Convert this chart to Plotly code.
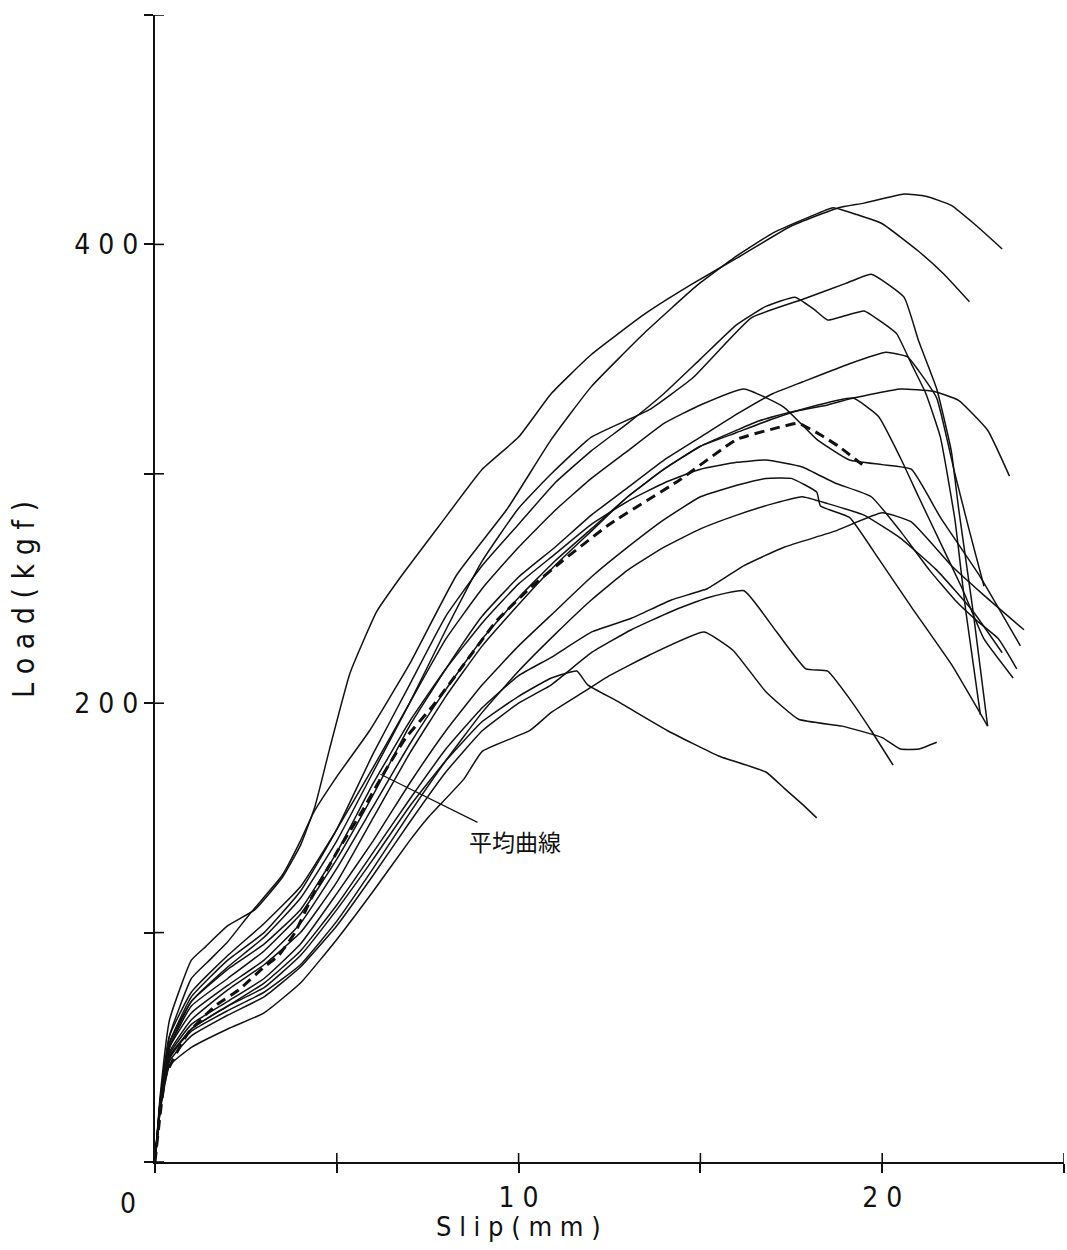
import plotly.graph_objects as go

# ---- data (slip mm, load kgf) ----
A_x = [0, 0.15, 0.4, 1.0, 1.4, 2.0, 2.75, 3.5, 4.0, 4.4, 4.8, 5.36, 6.1, 6.8, 7.8, 9.0, 10.0, 10.9, 12.0, 13.5, 14.8, 16.0, 17.5, 18.8, 19.5, 20.6, 21.2, 21.9, 22.6, 23.3]
A_y = [0, 30, 62, 88, 94, 103, 110, 124, 138, 155, 180, 213, 240, 256, 277, 302, 316, 335, 352, 370, 383, 394, 408, 416, 418, 422, 421, 417, 408, 398]

B_x = [0, 0.15, 0.4, 1.0, 1.5, 2.0, 2.6, 3.5, 4.0, 4.35, 5.0, 5.9, 7.0, 8.3, 9.7, 10.9, 12.0, 13.5, 14.9, 16.0, 17.0, 18.0, 18.65, 19.3, 20.0, 21.0, 21.7, 22.4]
B_y = [0, 28, 55, 80, 88, 96, 108, 125, 140, 152, 168, 188, 217, 256, 285, 315, 338, 362, 382, 395, 405, 412, 416, 413, 409, 397, 387, 375]

C_x = [0, 0.15, 0.4, 1, 2, 3, 4, 5, 6, 7, 8, 9, 10, 10.9, 12, 13.6, 14.8, 16.4, 17.8, 19.0, 19.7, 20.6, 21.0, 21.5, 21.9, 22.1, 22.5, 22.9]
C_y = [0, 25, 50, 70, 85, 98, 115, 140, 170, 200, 232, 262, 285, 300, 316, 328, 342, 368, 376, 383, 387, 377, 358, 337, 310, 285, 240, 190]

D_x = [0, 0.15, 0.4, 1, 2, 3, 4, 5, 6, 7, 8, 9, 10, 11, 12, 13, 14, 15, 16, 16.8, 17.6, 18.1, 18.5, 19.0, 19.5, 20.0, 20.4, 20.8, 21.2, 21.6, 22.0, 22.3, 22.7]
D_y = [0, 27, 52, 72, 88, 100, 118, 145, 178, 208, 238, 260, 278, 296, 310, 322, 335, 350, 365, 373, 377, 372, 367, 369, 371, 366, 361, 348, 335, 316, 280, 240, 195]

E_x = [0, 0.15, 0.4, 1, 2, 3, 4, 5, 6, 7, 8, 9, 10, 11, 12, 13, 14, 15, 16, 17, 17.8, 19.1, 20.1, 20.7, 21.0, 21.5, 22.0, 22.4, 22.8]
E_y = [0, 26, 50, 68, 80, 92, 108, 132, 160, 190, 215, 238, 255, 268, 282, 294, 306, 316, 326, 335, 340, 348, 353, 351, 345, 333, 300, 275, 251]

F_x = [0, 0.15, 0.4, 1, 2, 3, 4, 5, 6, 7, 8, 9, 10, 11, 12, 13, 14, 15, 16, 16.6, 17.5, 18.5, 19.2, 20.5, 21.4, 22.1, 22.9, 23.5]
F_y = [0, 25, 48, 62, 75, 86, 100, 122, 150, 178, 203, 225, 243, 260, 275, 290, 302, 312, 319, 323, 327, 330, 333, 337, 336, 332, 319, 299]

G_x = [0, 0.15, 0.4, 1, 2, 3, 4, 5, 6, 7, 8, 9, 10, 11, 12, 13, 14, 15, 16, 17, 18, 19.2, 19.9, 20.5, 21.0, 21.6, 22.2, 22.8, 23.6]
G_y = [0, 26, 50, 65, 77, 88, 104, 128, 155, 182, 206, 228, 246, 262, 276, 290, 302, 312, 318, 324, 329, 333, 325, 307, 290, 270, 250, 228, 211]

H_x = [0, 0.15, 0.4, 1, 2, 3, 4, 5, 6, 7, 8, 9, 10, 11, 12, 13, 14, 15, 16.2, 17.3, 18.2, 19.1, 20.0, 20.8, 21.6, 22.7, 23.8]
H_y = [0, 28, 55, 74, 90, 104, 120, 145, 172, 200, 228, 250, 268, 284, 298, 310, 322, 330, 337, 329, 315, 306, 304, 302, 281, 255, 225]

I_x = [0, 0.15, 0.4, 1, 2, 3, 4, 5, 6, 7, 8, 9, 10, 10.9, 12, 13.1, 14.2, 15.2, 16.2, 17.3, 18.7, 20.0, 20.8, 21.9, 22.8, 23.9]
I_y = [0, 24, 45, 58, 68, 78, 92, 112, 135, 158, 180, 198, 212, 220, 231, 237, 245, 250, 260, 268, 275, 283, 279, 260, 247, 232]

J_x = [0, 0.15, 0.4, 1, 2, 3, 4, 5, 6, 7, 8, 9, 10, 10.9, 12, 13.1, 14.2, 15.2, 16.2, 17.1, 17.9, 18.5, 19.1, 19.7, 20.3]
J_y = [0, 24, 44, 55, 64, 72, 85, 103, 125, 148, 170, 188, 200, 208, 222, 232, 240, 246, 249, 231, 215, 214, 202, 188, 173]

K_x = [0, 0.15, 0.4, 1, 2, 3, 4, 5, 6, 7, 7.5, 8.5, 9, 10.3, 10.9, 11.8, 12.5, 13.6, 15.1, 15.9, 16.8, 17.7, 18.9, 20.0, 20.5, 21.0, 21.5]
K_y = [0, 23, 42, 50, 58, 65, 78, 97, 118, 140, 150, 167, 179, 188, 196, 205, 212, 221, 231, 223, 205, 193, 190, 185, 180, 180, 183]

L_x = [0, 0.15, 0.4, 1, 2, 3, 4, 5, 6, 7, 8, 9, 10, 10.9, 11.6, 11.9, 12.7, 14.1, 15.5, 16.8, 17.3, 17.8, 18.2]
L_y = [0, 25, 46, 58, 68, 76, 90, 110, 132, 155, 175, 192, 203, 211, 214, 208, 201, 188, 177, 170, 163, 156, 150]

M_x = [0, 0.15, 0.4, 1, 2, 3, 4, 5, 6, 7, 8, 9, 10, 11, 12, 13, 14, 15, 16, 16.8, 17.5, 18.2, 18.3, 19.1, 19.9, 20.8, 21.9, 22.9]
M_y = [0, 25, 47, 60, 70, 80, 95, 117, 140, 165, 188, 208, 225, 240, 255, 268, 280, 290, 295, 298, 298, 292, 286, 281, 263, 242, 217, 190]

N_x = [0, 0.15, 0.4, 1, 2, 3, 4, 5, 6, 7, 8, 9, 10, 11, 12, 13, 14, 15, 16, 16.8, 17.8, 18.7, 19.7, 20.5, 21.3, 22.0, 22.6, 23.2, 23.7]
N_y = [0, 27, 52, 70, 84, 95, 110, 135, 165, 192, 215, 235, 252, 265, 278, 288, 296, 302, 305, 306, 303, 296, 290, 275, 258, 245, 236, 228, 215]

O_x = [0, 0.15, 0.4, 1, 2, 3, 4, 5, 6, 7, 8, 9, 10, 11, 12, 13, 14, 15, 16, 17, 17.8, 18.5, 19.5, 20.5, 21.5, 22.5, 23.3]
O_y = [0, 24, 46, 57, 66, 74, 86, 105, 128, 152, 175, 196, 214, 230, 245, 258, 268, 276, 282, 287, 290, 287, 282, 272, 258, 240, 222]

AVG_x = [0, 0.3, 0.9, 1.65, 2.3, 3.0, 3.4, 3.85, 4.3, 5.0, 5.7, 6.2, 6.9, 7.6, 8.5, 9.4, 10.3, 11.2, 12.5, 14.4, 16.0, 17.1, 17.7, 18.3, 18.8, 19.45]
AVG_y = [0, 38, 56, 68, 75, 85, 90, 100, 115, 135, 153, 167, 185, 198, 217, 236, 250, 262, 278, 297, 315, 320, 322, 317, 312, 304]

x_ticks = [0, 5, 10, 15, 20, 25]
x_ticktext = ["", "", "1 0", "", "2 0", ""]
y_ticks = [0, 100, 200, 300, 400, 500]
y_ticktext = ["", "", "2 0 0", "", "4 0 0", ""]

label_avg = "平均曲線"
x_title = "S l i p ( m m )"
y_title = "L o a d ( k g f )"

FONT = "Liberation Sans Narrow, DejaVu Sans Condensed, Arial Narrow, sans-serif"
INK = "#111111"

curves = [(A_x, A_y), (B_x, B_y), (C_x, C_y), (D_x, D_y), (E_x, E_y), (F_x, F_y),
          (G_x, G_y), (H_x, H_y), (I_x, I_y), (J_x, J_y), (K_x, K_y), (L_x, L_y),
          (M_x, M_y), (N_x, N_y), (O_x, O_y)]

fig = go.Figure()
for cx, cy in curves:
    fig.add_trace(go.Scatter(x=cx, y=cy, mode="lines",
                             line=dict(color=INK, width=1.5, shape="spline", smoothing=0.4),
                             showlegend=False, hoverinfo="skip"))

fig.add_trace(go.Scatter(x=AVG_x, y=AVG_y, mode="lines",
                         line=dict(color=INK, width=3, dash="10px,6px", shape="spline", smoothing=0.4),
                         showlegend=False, hoverinfo="skip"))

PLOT_W = 1067 - 155 - 3
PLOT_H = 1250 - 15 - 88

fig.update_layout(
    width=1067, height=1250,
    margin=dict(l=155, r=3, t=15, b=88),
    paper_bgcolor="white", plot_bgcolor="white",
    font=dict(family=FONT, color=INK),
    xaxis=dict(range=[0, 25], tickvals=x_ticks, ticktext=x_ticktext,
               ticks="outside", ticklen=9, tickwidth=1.5, tickcolor=INK,
               showline=True, linewidth=2, linecolor=INK, showgrid=False, zeroline=False,
               tickfont=dict(size=28, family=FONT, color=INK)),
    yaxis=dict(range=[0, 500], tickvals=y_ticks, ticktext=y_ticktext,
               ticks="outside", ticklen=9, tickwidth=1.5, tickcolor=INK,
               showline=True, linewidth=2, linecolor=INK, showgrid=False, zeroline=False,
               tickfont=dict(size=28, family=FONT, color=INK)),
)

# inner half of the crossing tick marks
for tv in x_ticks:
    fig.add_shape(type="line", xref="x", yref="paper", x0=tv, x1=tv,
                  y0=0, y1=9 / PLOT_H, line=dict(color=INK, width=1.6), layer="above")
for tv in y_ticks:
    fig.add_shape(type="line", xref="paper", yref="y", x0=0, x1=9 / PLOT_W,
                  y0=tv, y1=tv, line=dict(color=INK, width=1.6), layer="above")

fig.add_annotation(x=6.2, y=169, xref="x", yref="y",
                   ax=9.9, ay=140, axref="x", ayref="y",
                   text=label_avg, showarrow=True, arrowhead=0, arrowwidth=1.2,
                   arrowcolor=INK, standoff=0,
                   font=dict(size=23, family="Noto Sans CJK JP", color=INK))

fig.add_annotation(x=-27 / PLOT_W, y=-0.02, xref="paper", yref="paper",
                   xanchor="center", yanchor="top",
                   text="0", showarrow=False,
                   font=dict(size=28, family=FONT, color=INK))

fig.add_annotation(x=0.4, y=-0.041, xref="paper", yref="paper",
                   xanchor="center", yanchor="top",
                   text=x_title, showarrow=False,
                   font=dict(size=27, family=FONT, color=INK))

fig.add_annotation(x=-131 / PLOT_W, y=0.49, xref="paper", yref="paper",
                   xanchor="center", yanchor="middle",
                   text=y_title, showarrow=False, textangle=-90,
                   font=dict(size=30, family=FONT, color=INK))

fig.write_html("out.html")
